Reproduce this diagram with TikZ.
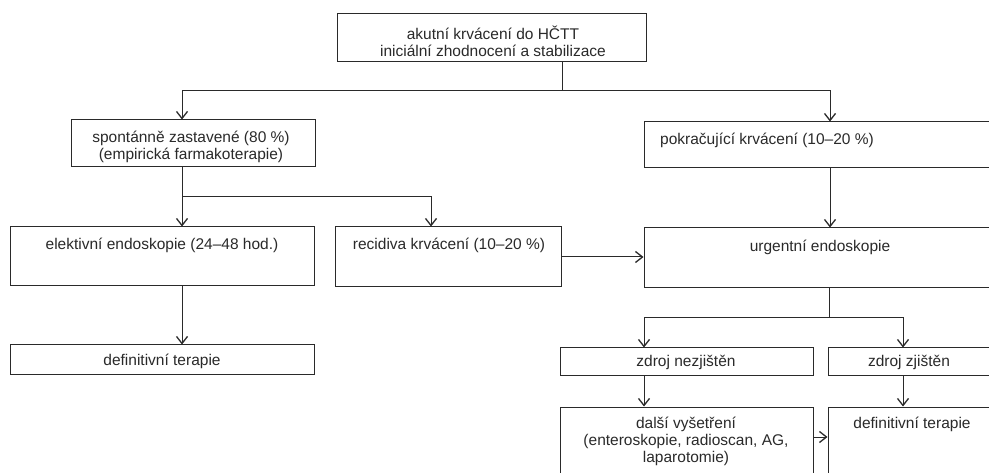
\documentclass[tikz,border=0pt]{standalone}
\usepackage{fontspec}
\setmainfont{Liberation Sans}
\usetikzlibrary{arrows.meta}
\definecolor{ink}{HTML}{2A2A2A}
\begin{document}
\begin{tikzpicture}[x=1pt,y=-1pt,
  box/.style={draw=ink, line width=1pt, inner sep=0pt, rectangle},
  txt/.style={text=ink, align=center, font=\fontsize{15.5}{17}\selectfont, inner sep=0pt},
  conn/.style={draw=ink, line width=1pt},
  arr/.style={conn, -{Straight Barb[length=7pt,width=11pt,line width=1.3pt]}}]
\clip (0,0) rectangle (989,473);
\fill[white] (0,0) rectangle (989,473);
% boxes
\node[box, minimum width=309pt, minimum height=48pt] (top) at (491.5,38) {};
\node[box, minimum width=244pt, minimum height=47pt] (spont) at (193,143.5) {};
\node[box, minimum width=366pt, minimum height=46pt] (pokr) at (827,145) {};
\node[box, minimum width=304pt, minimum height=59pt] (elekt) at (162,256.5) {};
\node[box, minimum width=226pt, minimum height=60pt] (recid) at (448,257) {};
\node[box, minimum width=366pt, minimum height=60pt] (urg) at (827,258) {};
\node[box, minimum width=304pt, minimum height=30pt] (defL) at (162,360) {};
\node[box, minimum width=253pt, minimum height=28pt] (nez) at (686.5,362) {};
\node[box, minimum width=182pt, minimum height=28pt] (zj) at (919,362) {};
\node[box, minimum width=253pt, minimum height=83pt] (dalsi) at (686.5,448.5) {};
\node[box, minimum width=182pt, minimum height=83pt] (defR) at (919,448.5) {};
% texts
\node[txt] (ttop) at (493,41) {akutní krvácení do HČTT\\iniciální zhodnocení a stabilizace};
\node[txt] (tspont) at (191,147) {spontánně zastavené (80~\%)\\(empirická farmakoterapie)};
\node[txt] (tpokr) at (767,140) {pokračující krvácení (10–20~\%)};
\node[txt] (telekt) at (162,245) {elektivní endoskopie (24–48 hod.)};
\node[txt] (trecid) at (449,245) {recidiva krvácení (10–20~\%)};
\node[txt] (turg) at (820,247) {urgentní endoskopie};
\node[txt] (tdefL) at (162,361) {definitivní terapie};
\node[txt] (tnez) at (686,362) {zdroj nezjištěn};
\node[txt] (tzj) at (909,362) {zdroj zjištěn};
\node[txt] (tdalsi) at (686,441) {další vyšetření\\(enteroskopie, radioscan, AG,\\laparotomie)};
\node[txt] (tdefR) at (912,424) {definitivní terapie};
% junction coordinates
\coordinate (j1) at (562,91);
\coordinate (j1l) at (182,91);
\coordinate (j1r) at (830,91);
\coordinate (j2) at (182,197);
\coordinate (j2r) at (431,197);
\coordinate (j3) at (829,318);
\coordinate (j3l) at (644,318);
\coordinate (j3r) at (903,318);
\coordinate (j4) at (813,437);
% connectors
\draw[conn] (j1 |- top.south) -- (j1);
\draw[arr] (j1) -- (j1l) -- (j1l |- spont.north);
\draw[arr] (j1) -- (j1r) -- (j1r |- pokr.north);
\draw[conn] (j2 |- spont.south) -- (j2);
\draw[arr] (j2) -- (j2 |- elekt.north);
\draw[arr] (j2) -- (j2r) -- (j2r |- recid.north);
\draw[arr] (j1r |- pokr.south) -- (j1r |- urg.north);
\draw[arr] (j2 |- elekt.south) -- (j2 |- defL.north);
\draw[arr] (recid.east) -- (recid.east -| urg.west);
\draw[conn] (j3 |- urg.south) -- (j3);
\draw[arr] (j3) -- (j3l) -- (j3l |- nez.north);
\draw[arr] (j3) -- (j3r) -- (j3r |- zj.north);
\draw[arr] (j3l |- nez.south) -- (j3l |- dalsi.north);
\draw[arr] (j3r |- zj.south) -- (j3r |- defR.north);
\draw[arr] (j4 -| dalsi.east) -- (j4 -| defR.west);
\end{tikzpicture}
\end{document}
